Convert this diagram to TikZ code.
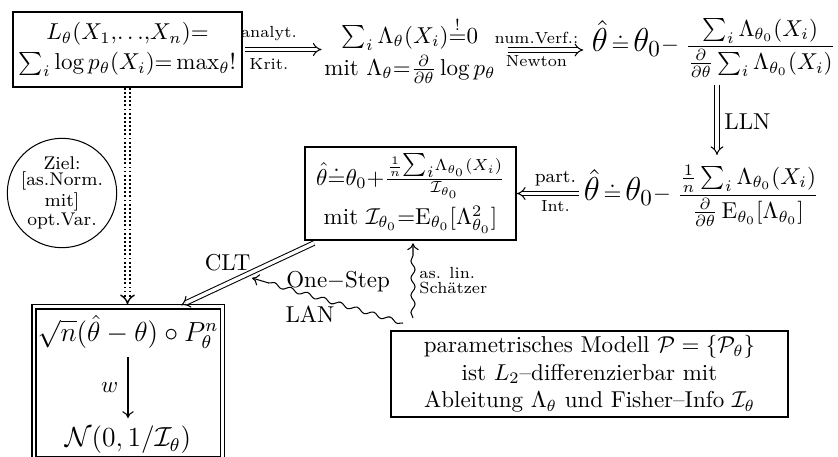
\documentclass[tikz,border=0pt]{standalone}
\usepackage{amsmath,amssymb}
\usetikzlibrary{arrows.meta,decorations.pathmorphing,calc}
\begin{document}
\begin{tikzpicture}[x=0.435pt,y=-0.435pt,
  box/.style={draw, line width=0.8pt, inner sep=0pt, align=center},
  lbl/.style={font=\scriptsize, inner sep=0pt},
  dbl/.style={double, double distance=1.5pt, line width=0.45pt, -{Implies[scale=1.25]}},
  sq/.style={decorate, decoration={snake, amplitude=0.9pt, segment length=7.5pt, post length=4pt}, -{Computer Modern Rightarrow[length=3pt,width=5pt]}, line width=0.45pt},
  cmarrow/.style={-{Computer Modern Rightarrow[length=3pt,width=5pt]}, line width=0.45pt}
]
\useasboundingbox (0,0) rectangle (838,457);

% boxes and text nodes
\node[box, minimum width=99.6pt, minimum height=32.6pt] (A) at (127.5,49.5)
  {$L_\theta(X_1{,}{\ldots}{,}X_n){=}$\\[1pt] $\sum_i\log p_\theta(X_i){=}\max_\theta!$};
\node[align=center, inner sep=1pt] (B) at (410,50)
  {$\sum_i\Lambda_\theta(X_i){\stackrel{!}{=}}0$\\[2pt] mit $\Lambda_\theta{=}\frac{\partial}{\partial\theta}\log p_\theta$};
\node[anchor=base west, inner sep=1pt] (C) at (589,52)
  {{\Large$\hat\theta$}\,$\doteq$\,{\Large$\theta_0$}$-$\;$\dfrac{\sum_i\Lambda_{\theta_0}(X_i)}{\tfrac{\partial}{\partial\theta}\sum_i\Lambda_{\theta_0}(X_i)}$};
\node[anchor=base west, inner sep=1pt] (D) at (581,201)
  {{\Large$\hat\theta$}\,$\doteq$\,{\Large$\theta_0$}$-$\;$\dfrac{\tfrac1n\sum_i\Lambda_{\theta_0}(X_i)}{\tfrac{\partial}{\partial\theta}\,\mathrm{E}_{\theta_0}[\Lambda_{\theta_0}]}$};
\node[box, minimum width=91.8pt, minimum height=40.5pt] (E) at (410.5,193.5)
  {$\hat\theta{\doteq}\theta_0{+}\frac{\frac1n{\textstyle\sum_i}\Lambda_{\theta_0}(X_i)}{\mathcal I_{\theta_0}}$\\[2pt] mit $\mathcal I_{\theta_0}{=}\mathrm E_{\theta_0}[\Lambda^2_{\theta_0}]$};
\node[draw, double, line width=0.8pt, double distance=1pt, minimum width=82pt, minimum height=66.5pt, inner sep=0pt] (F) at (128.25,383) {};
\node (F1) at (128,332) {\large$\sqrt{n}(\hat\theta-\theta)\circ P_\theta^n$};
\node (F2) at (128,440) {\large$\mathcal N(0,1/\mathcal I_\theta)$};
\node[box, minimum width=172.7pt, minimum height=37.4pt] (G) at (589.5,374)
  {parametrisches Modell $\mathcal P=\{\mathcal P_\theta\}$\\ ist $L_2$--differenzierbar mit\\ Ableitung $\Lambda_\theta$ und Fisher--Info $\mathcal I_\theta$};
\node[draw, circle, line width=0.45pt, minimum size=47pt, inner sep=0pt, align=center, font=\fontsize{8}{7}\selectfont] (Z) at (62,193)
  {Ziel:\\{[}as.Norm.\\mit{]}\\opt.Var.};

% connectors
\draw[dbl, shorten <=1pt] (A.east) -- (A.east -| B.west)
  node[pos=0.33, above=3.5pt, lbl] {analyt.}
  node[pos=0.33, below=3.5pt, lbl] {Krit.};
\draw[dbl, shorten <=4pt, shorten >=2.5pt] (B.east) -- (B.east -| C.west)
  node[pos=0.42, above=2.6pt, lbl] {num.Verf.:}
  node[pos=0.42, below=2.2pt, lbl] {Newton};
\coordinate (llnx) at (717,0);
\draw[dbl, shorten <=2pt, shorten >=3pt] (C.south -| llnx) -- (D.north -| llnx)
  node[midway, right=3pt, inner sep=0pt] {LLN};
\draw[dbl, shorten <=1pt] (E.east -| D.west) -- (E.east)
  node[pos=0.4, above=3pt, inner sep=0pt, font=\footnotesize] {part.}
  node[pos=0.4, below=3pt, lbl] {Int.};
\draw[dbl, shorten >=0.5pt] ([xshift=4.35pt,yshift=-0.9pt]E.south west) -- ([xshift=22.5pt]F.north)
  node[pos=0.644, above=5pt, inner sep=0pt] {CLT};
\draw[dotted, double, double distance=1.6pt, line width=0.6pt, dash pattern=on 0.8pt off 1pt, -{Implies[scale=1.25]}, shorten >=0.5pt]
  (A.south) -- (A.south |- F.north);
\draw[cmarrow] (F1.south) -- (F2.north) node[midway, left=4pt, inner sep=0pt] {$w$};

\coordinate (osend) at (252,278);
\coordinate (osstart) at (403,323);
\draw[sq] (osstart) -- (osend);
\path (osstart) -- (osend)
  node[pos=0.43, above=5pt, inner sep=0pt] {One$-$Step}
  node[pos=0.616, below=4.5pt, inner sep=0pt] {LAN};
\coordinate (alstart) at (413,318);
\draw[sq, shorten >=1pt] (alstart) -- (alstart |- E.south);
\node[anchor=west, align=left, inner sep=0pt, font=\fontsize{7}{6.5}\selectfont] (AL) at (419,281) {as. lin.\\Sch\"atzer};
\end{tikzpicture}
\end{document}
